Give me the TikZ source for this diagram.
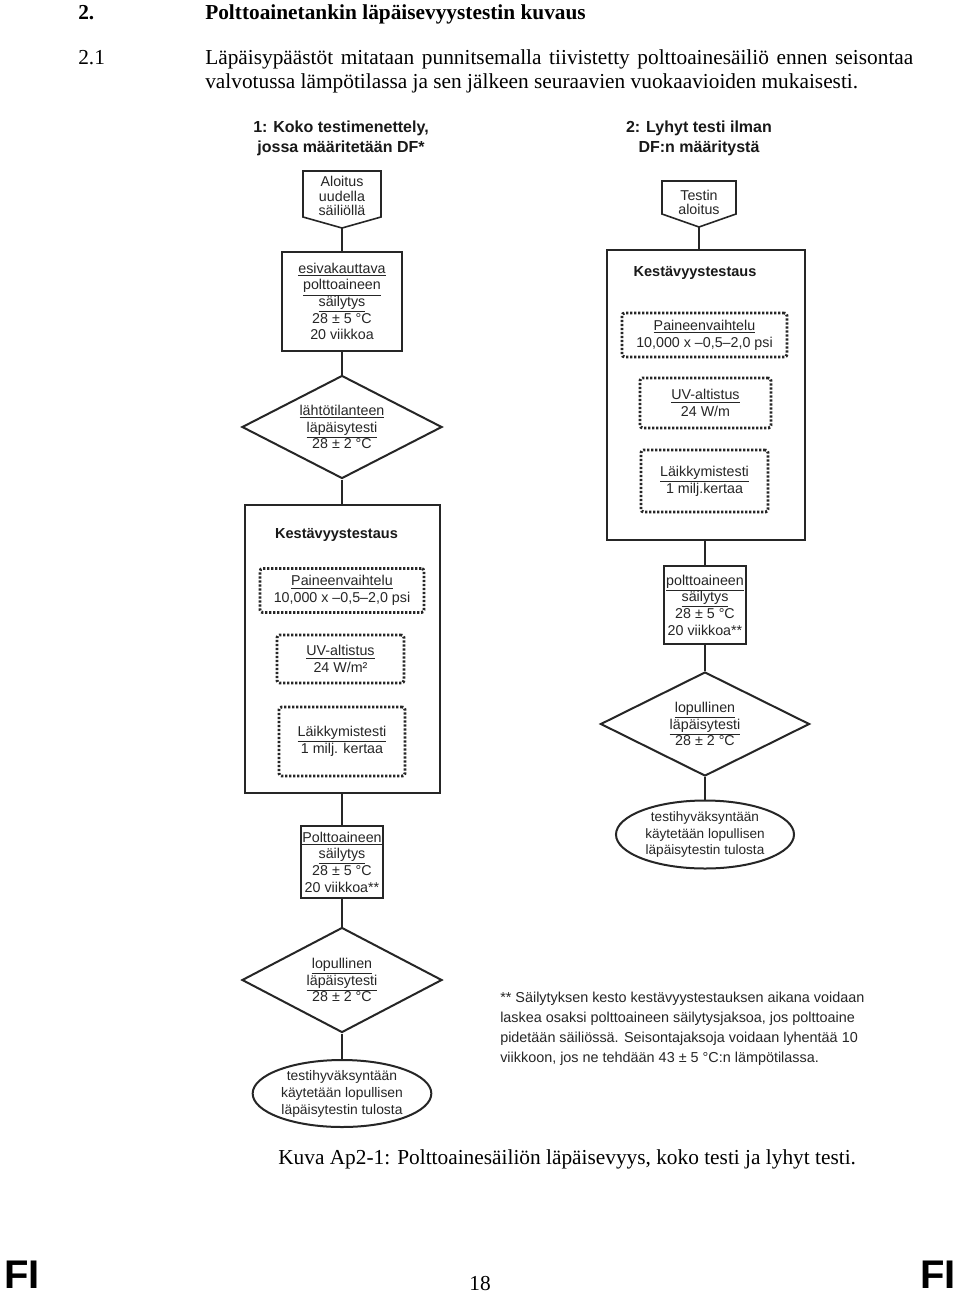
\documentclass[tikz,border=0pt]{standalone}
\usepackage{fontspec}
\setmainfont{Liberation Serif}
\newfontfamily\arialf{Liberation Sans}
\usetikzlibrary{shapes.geometric}
\begin{document}
\begin{tikzpicture}[x=0.75pt,y=-0.75pt,
  fc/.style={font=\arialf\fontsize{10.7}{12.5}\selectfont, align=center, text=black!85, inner sep=0pt},
  solidbox/.style={draw=black!85, line width=1.5pt, rectangle},
  dotbox/.style={draw=black!85, line width=2.2pt, dash pattern=on 1.6pt off 1.4pt, rounded corners=2pt, rectangle},
  dia/.style={draw=black!85, line width=1.5pt, diamond, aspect=2},
  ell/.style={draw=black!85, line width=1.5pt, ellipse},
  pent/.style={draw=black!85, line width=1.2pt, line join=miter},
  conn/.style={draw=black!85, line width=1.4pt},
  ttl/.style={font=\arialf\bfseries\fontsize{12}{15}\selectfont, align=center, inner sep=0pt, text=black!90},
  kttl/.style={font=\arialf\bfseries\fontsize{10.9}{13}\selectfont, inner sep=0pt, text=black!90},
  body/.style={font=\fontsize{16}{19}\selectfont, inner sep=0pt, anchor=base west},
  bodyb/.style={body, font=\bfseries\fontsize{16}{19}\selectfont},
  fistyle/.style={font=\arialf\bfseries\fontsize{30}{31}\selectfont, inner sep=0pt},
]
\fill[white] (0,0) rectangle (960,1293);
\useasboundingbox (0,0) rectangle (960,1293);

% header
\node[bodyb] (h2) at (78,19) {2.};
\node[bodyb] (h2t) at (205,19) {Polttoainetankin läpäisevyystestin kuvaus};
\node[body] (h21) at (78,64) {2.1};
\node[body] (par1) at (205,64) {\makebox[531pt][s]{Läpäisypäästöt mitataan punnitsemalla tiivistetty polttoainesäiliö ennen seisontaa}};
\node[body] (par2) at (205,88) {valvotussa lämpötilassa ja sen jälkeen seuraavien vuokaavioiden mukaisesti.};

% titles
\node[ttl] (t1) at (341,138) {1: Koko testimenettely,\\jossa määritetään DF*};
\node[ttl] (t2) at (699,138) {2: Lyhyt testi ilman\\DF:n määritystä};

% ---------- left column ----------
\draw[pent] (303,171) -- (381,171) -- (381,217) -- (342,228) -- (303,217) -- cycle;
\coordinate (a1tip) at (342,228);
\node[fc, font=\arialf\fontsize{10.7}{10.8}\selectfont] (a1) at (342,196) {Aloitus\\uudella\\säiliöllä};

\node[fc, solidbox, minimum width=90pt, minimum height=74.25pt] (b1) at (342,301.5)
  {\underline{esivakauttava}\\\underline{polttoaineen}\\\underline{säilytys}\\28 ± 5 °C\\20 viikkoa};

\node[fc, dia, minimum width=150pt, minimum height=77.25pt] (d1) at (342,427)
  {\underline{lähtötilanteen}\\\underline{läpäisytesti}\\28 ± 2 °C};

\node[solidbox, minimum width=146.25pt, minimum height=216pt] (K1) at (342.5,649) {};
\node[kttl] (K1t) at (336.5,535) {Kestävyystestaus};
\node[fc, dotbox, minimum width=123pt, minimum height=33pt] (L1) at (342,590.5)
  {\underline{Paineenvaihtelu}\\10,000 x –0,5–2,0 psi};
\node[fc, dotbox, minimum width=95.25pt, minimum height=36pt] (L2) at (340.5,659)
  {\underline{UV-altistus}\\24 W/m²};
\node[fc, dotbox, minimum width=94.5pt, minimum height=51.75pt] (L3) at (342,741.5)
  {\underline{Läikkymistesti}\\1 milj. kertaa};

\node[fc, solidbox, minimum width=61.5pt, minimum height=54pt] (b2) at (342,862)
  {\underline{Polttoaineen}\\\underline{säilytys}\\28 ± 5 °C\\20 viikkoa**};

\node[fc, dia, minimum width=150pt, minimum height=78.75pt] (d2) at (342,980)
  {\underline{lopullinen}\\\underline{läpäisytesti}\\28 ± 2 °C};

\node[ell, minimum width=134pt, minimum height=50.25pt] (e1) at (342,1093.5) {};
\node[fc, font=\arialf\fontsize{10.4}{12.7}\selectfont] (e1t) at (e1) {testihyväksyntään\\käytetään lopullisen\\läpäisytestin tulosta};

\draw[conn] (a1tip) -- (b1.north);
\draw[conn] (b1.south) -- (d1.north);
\draw[conn] (d1.south) -- (d1.south |- K1.north);
\draw[conn] (b2.north |- K1.south) -- (b2.north);
\draw[conn] (b2.south) -- (d2.north);
\draw[conn] (d2.south) -- (e1.north);

% ---------- right column ----------
\draw[pent] (662,181) -- (736,181) -- (736,214) -- (699,227) -- (662,214) -- cycle;
\coordinate (a2tip) at (699,227);
\node[fc, font=\arialf\fontsize{10.7}{11}\selectfont] (a2) at (699,202.5) {Testin\\aloitus};

\node[solidbox, minimum width=148.5pt, minimum height=217.5pt] (K2) at (706,395) {};
\node[kttl] (K2t) at (695,273) {Kestävyystestaus};
\node[fc, dotbox, minimum width=123.75pt, minimum height=33pt] (R1) at (704.5,335)
  {\underline{Paineenvaihtelu}\\10,000 x –0,5–2,0 psi};
\node[fc, dotbox, minimum width=98.25pt, minimum height=37.5pt] (R2) at (705.5,403)
  {\underline{UV-altistus}\\24 W/m};
\node[fc, dotbox, minimum width=95.25pt, minimum height=46.5pt] (R3) at (704.5,481)
  {\underline{Läikkymistesti}\\1 milj.kertaa};

\node[fc, solidbox, minimum width=61.5pt, minimum height=58.5pt] (b3) at (705,605)
  {\underline{polttoaineen}\\\underline{säilytys}\\28 ± 5 °C\\20 viikkoa**};

\node[fc, dia, minimum width=156.75pt, minimum height=78pt] (d3) at (705,724)
  {\underline{lopullinen}\\\underline{läpäisytesti}\\28 ± 2 °C};

\node[ell, minimum width=133.5pt, minimum height=51pt] (e2) at (705,834.5) {};
\node[fc, font=\arialf\fontsize{10.2}{12.5}\selectfont] (e2t) at (e2) {testihyväksyntään\\käytetään lopullisen\\läpäisytestin tulosta};

\draw[conn] (a2tip) -- (a2tip |- K2.north);
\draw[conn] (b3.north |- K2.south) -- (b3.north);
\draw[conn] (b3.south) -- (d3.north);
\draw[conn] (d3.south) -- (e2.north);

% footnote
\node[font=\arialf\fontsize{10.8}{15}\selectfont, align=left, inner sep=0pt, anchor=north west, text=black!85] (fn) at (500,991.5)
  {** Säilytyksen kesto kestävyystestauksen aikana voidaan\\laskea osaksi polttoaineen säilytysjaksoa, jos polttoaine\\pidetään säiliössä. Seisontajaksoja voidaan lyhentää 10\\viikkoon, jos ne tehdään 43 ± 5 °C:n lämpötilassa.};

% caption and footer
\node[body] (cap) at (278,1164) {Kuva Ap2-1: Polttoainesäiliön läpäisevyys, koko testi ja lyhyt testi.};
\node[body, anchor=base] (pg) at (480,1290) {18};
\node[fistyle, anchor=base west] (fil) at (4,1288) {FI};
\node[fistyle, anchor=base east] (fir) at (956,1288) {FI};
\end{tikzpicture}
\end{document}
